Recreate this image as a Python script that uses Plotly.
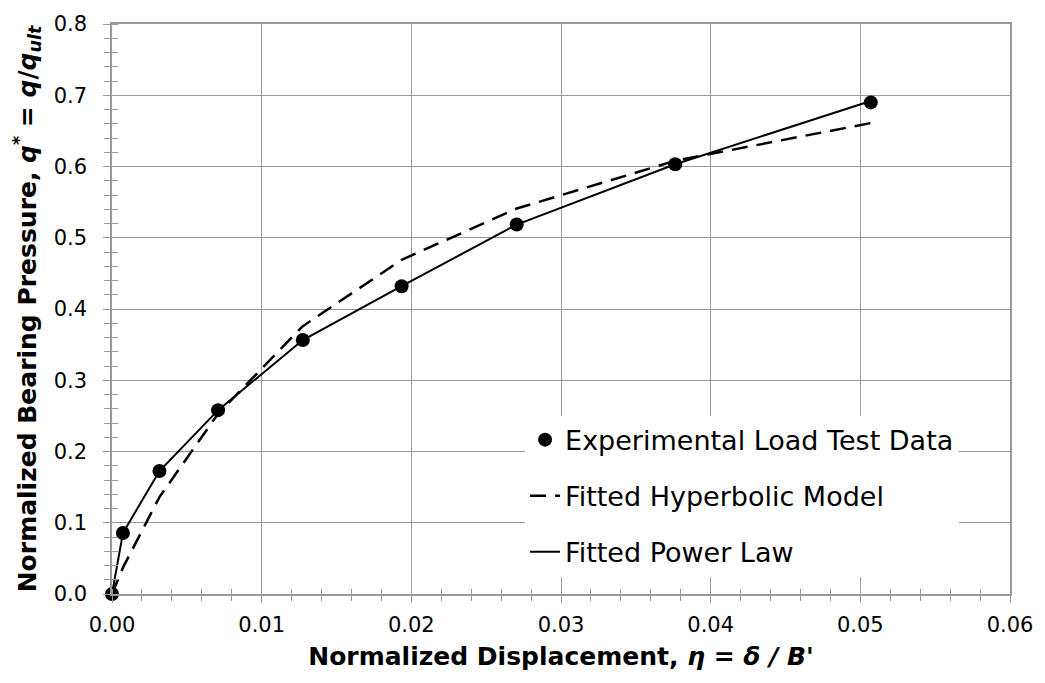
import plotly.graph_objects as go

# ---- data ----
eta = [0.0, 0.00073, 0.00317, 0.00709, 0.01275, 0.01935, 0.02704, 0.03763, 0.0507]
q_exp = [0.0, 0.0856, 0.1726, 0.258, 0.3564, 0.432, 0.5185, 0.6032, 0.690]
q_hyp = [0.0, 0.037, 0.136, 0.253, 0.376, 0.469, 0.541, 0.608, 0.661]
q_pow = [0.0, 0.0856, 0.1726, 0.258, 0.3564, 0.432, 0.5185, 0.6032, 0.692]

x_ticks = [0.00, 0.01, 0.02, 0.03, 0.04, 0.05, 0.06]
x_labels = ["0.00", "0.01", "0.02", "0.03", "0.04", "0.05", "0.06"]
y_ticks = [0.0, 0.1, 0.2, 0.3, 0.4, 0.5, 0.6, 0.7, 0.8]
y_labels = ["0.0", "0.1", "0.2", "0.3", "0.4", "0.5", "0.6", "0.7", "0.8"]

FONT = "DejaVu Sans, Liberation Sans, Arial, sans-serif"
GRID = "#9a9a9a"

fig = go.Figure()

fig.add_trace(go.Scatter(
    x=eta, y=q_exp, mode="markers", name="Experimental Load Test Data",
    marker=dict(color="black", size=14), legendgroup="a", cliponaxis=False))
fig.add_trace(go.Scatter(
    x=eta, y=q_hyp, mode="lines", name="Fitted Hyperbolic Model",
    line=dict(color="black", width=2.5, dash="16px,9px"), legendgroup="b"))
fig.add_trace(go.Scatter(
    x=eta, y=q_pow, mode="lines", name="Fitted Power Law",
    line=dict(color="black", width=2), legendgroup="c"))
# invisible trace to activate the overlay axes (inward half of crossing ticks)
fig.add_trace(go.Scatter(
    x=eta, y=q_exp, mode="markers", xaxis="x2", yaxis="y2",
    marker=dict(opacity=0), showlegend=False, hoverinfo="skip"))

fig.update_layout(
    width=1045, height=683,
    margin=dict(l=112, r=29, t=18, b=89),
    paper_bgcolor="white", plot_bgcolor="white",
    font=dict(family=FONT, color="black", size=21),
    showlegend=True,
    legend=dict(
        x=0.46, y=0.313, xanchor="left", yanchor="top",
        bgcolor="white", borderwidth=0,
        font=dict(family=FONT, size=27, color="black"),
        tracegroupgap=18, traceorder="grouped",
    ),
    xaxis=dict(
        range=[0, 0.06], tickvals=x_ticks, ticktext=x_labels,
        showgrid=True, gridcolor=GRID, gridwidth=1.3,
        showline=True, linecolor=GRID, linewidth=1.5, mirror=True,
        ticks="outside", ticklen=7, tickcolor=GRID, tickwidth=1.3,
        minor=dict(dtick=0.002, ticks="outside", ticklen=5, tickcolor=GRID, tickwidth=1.3, showgrid=False),
        zeroline=False, tickfont=dict(size=21),
        ticklabelstandoff=4,
        title=dict(text="<b>Normalized Displacement, <i>η</i> = <i>δ / B'</i></b>",
                   font=dict(size=25), standoff=12),
    ),
    yaxis=dict(
        range=[0, 0.8], tickvals=y_ticks, ticktext=y_labels,
        showgrid=True, gridcolor=GRID, gridwidth=1.3,
        showline=True, linecolor=GRID, linewidth=1.5, mirror=True,
        ticks="outside", ticklen=7, tickcolor=GRID, tickwidth=1.3,
        minor=dict(dtick=0.02, ticks="outside", ticklen=6, tickcolor=GRID, tickwidth=1.3, showgrid=False),
        zeroline=False, tickfont=dict(size=21),
        ticklabelstandoff=12,
        title=dict(text="<b>Normalized Bearing Pressure, <i>q</i><sup>*</sup> = <i>q</i>/<i>q</i><sub><i>ult</i></sub></b>",
                   font=dict(size=25), standoff=10),
    ),
    xaxis2=dict(
        overlaying="x", matches="x", anchor="y2", range=[0, 0.06],
        showgrid=False, showline=False, zeroline=False, showticklabels=False,
        tickvals=x_ticks, ticks="",
        minor=dict(dtick=0.002, ticks="inside", ticklen=5, tickcolor=GRID, tickwidth=1.3, showgrid=False),
    ),
    yaxis2=dict(
        overlaying="y", matches="y", anchor="x2", range=[0, 0.8],
        showgrid=False, showline=False, zeroline=False, showticklabels=False,
        tickvals=y_ticks, ticks="",
        minor=dict(dtick=0.02, ticks="inside", ticklen=6, tickcolor=GRID, tickwidth=1.3, showgrid=False),
    ),
)

fig.write_html("out.html")
